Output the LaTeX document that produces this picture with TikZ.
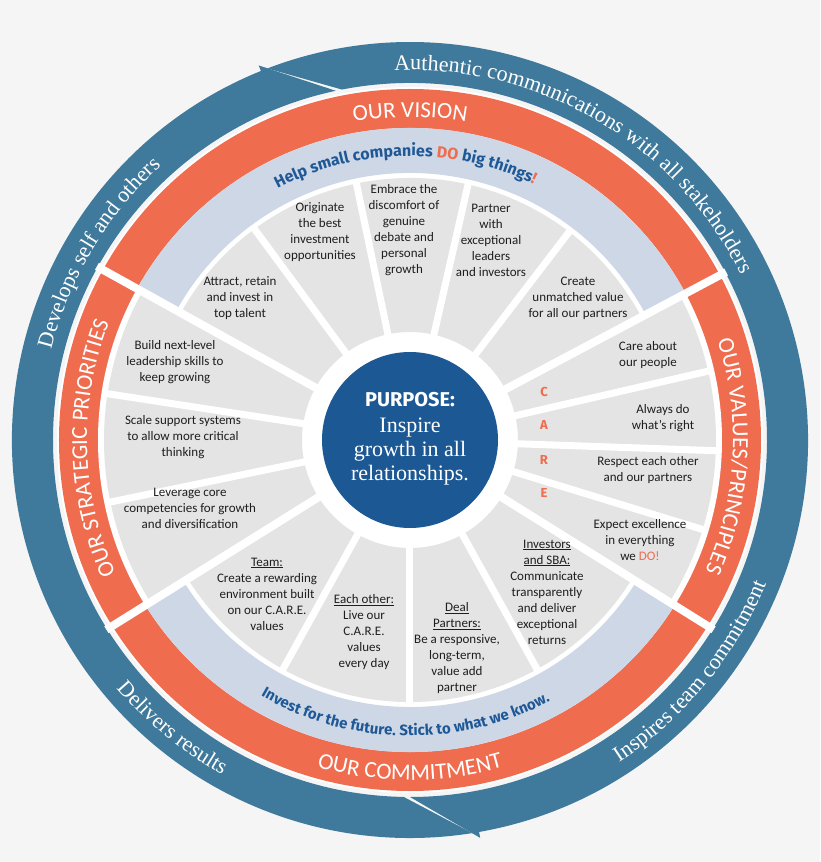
\documentclass[tikz,border=0pt]{standalone}
\usepackage{fontspec}
\setmainfont{Liberation Serif}
\newfontfamily\segfont{Carlito}
\newfontfamily\headfont{Fira Sans}
\usetikzlibrary{decorations.text}

\definecolor{bgcol}{RGB}{245,245,245}
\definecolor{ringblue}{RGB}{63,122,156}
\definecolor{ringorange}{RGB}{239,108,79}
\definecolor{lavender}{RGB}{205,215,230}
\definecolor{seggray}{RGB}{228,228,228}
\definecolor{purposeblue}{RGB}{28,88,148}
\definecolor{slogan}{RGB}{30,88,150}
\definecolor{segink}{RGB}{30,30,30}

\tikzset{
  seg text/.style={font=\segfont\fontsize{13}{16}\selectfont, text=segink, align=center, inner sep=0pt},
  care letter/.style={font=\headfont\bfseries\fontsize{13}{16}\selectfont, text=ringorange, inner sep=0pt},
  divider/.style={draw=white, line width=7pt},
  gap/.style={draw=white, line width=8pt},
}

\begin{document}
\begin{tikzpicture}[x=1pt,y=1pt]
\useasboundingbox (-410,-422) rectangle (410,440);
\fill[bgcol] (-410,-422) rectangle (410,440);

%Shape: blue arrows
\fill[ringblue] (269:357) arc[start angle=269,end angle=102,radius=357] -- (112:404) -- (112:398) arc[start angle=112,end angle=279,radius=398] -- cycle;
\fill[ringblue] (101:357) arc[start angle=101,end angle=-90,radius=357] -- (-80:404) -- (-80:398) arc[start angle=-80,end angle=111,radius=398] -- cycle;

%Shape: inner disc
\fill[white] (0,0) circle[radius=353];

%Shape: orange ring and lavender bands
\fill[ringorange] (0,0) circle[radius=351];
\fill[white] (0,0) circle[radius=312];
\foreach \a/\b in {28/151,212/328}
  \fill[lavender] (\a:267) arc[start angle=\a,end angle=\b,radius=267] -- (\b:312) arc[start angle=\b,end angle=\a,radius=312] -- cycle;

%Shape: gray segments
\foreach \a/\b/\r in {28/151/262,212/328/262,151/212/306,-32/28/306}
  \fill[seggray] (\a:108) arc[start angle=\a,end angle=\b,radius=108] -- (\b:\r) arc[start angle=\b,end angle=\a,radius=\r] -- cycle;

%Straight Lines: dividers
\foreach \a in {126.4,101.8,77.2,52.6,241,270,299}
  \draw[divider] (\a:100) -- (\a:264);
\foreach \a in {13,-2,-17,171.3,191.7}
  \draw[divider] (\a:100) -- (\a:310);
\foreach \a in {28,151,212,-32}
  \draw[gap] (\a:100) -- (\a:358);

%Shape: purpose circle
\node[circle, fill=purposeblue, minimum size=176pt, inner sep=0pt] (purpose) at (0,0) {};
\node[font=\headfont\bfseries\fontsize{20}{22}\selectfont, text=white] (purposehead) at (0,40) {PURPOSE:};
\node[font=\fontsize{22}{24}\selectfont, text=white, align=center] (purposetext) at (0,-12) {Inspire\\growth in all\\relationships.};

%Curve Lines: ring texts
\path[decorate, decoration={text along path, text align=center,
  text={|\fontsize{22}{22}\selectfont\color{white}|Authentic communications with all stakeholders}}]
  (95:370) arc[start angle=95,end angle=24,radius=370];
\path[decorate, decoration={text along path, text align=center,
  text={|\fontsize{22}{22}\selectfont\color{white}|Develops self and others}}]
  (168:370) arc[start angle=168,end angle=130,radius=370];
\path[decorate, decoration={text along path, text align=center,
  text={|\fontsize{22}{22}\selectfont\color{white}|Delivers results}}]
  (218:384) arc[start angle=218,end angle=243,radius=384];
\path[decorate, decoration={text along path, text align=center,
  text={|\fontsize{22}{22}\selectfont\color{white}|Inspires team commitment}}]
  (301:384) arc[start angle=301,end angle=340,radius=384];

\path[decorate, decoration={text along path, text align=center,
  text={|\segfont\fontsize{23}{23}\selectfont\color{white}|OUR VISION}}]
  (110:323) arc[start angle=110,end angle=70,radius=323];
\path[decorate, decoration={text along path, text align=center,
  text={|\segfont\fontsize{23}{23}\selectfont\color{white}|OUR VALUES/PRINCIPLES}}]
  (24:323) arc[start angle=24,end angle=-30,radius=323];
\path[decorate, decoration={text along path, text align=center,
  text={|\segfont\fontsize{23}{23}\selectfont\color{white}|OUR STRATEGIC PRIORITIES}}]
  (208:323) arc[start angle=208,end angle=155,radius=323];
\path[decorate, decoration={text along path, text align=center,
  text={|\segfont\fontsize{23}{23}\selectfont\color{white}|OUR COMMITMENT}}]
  (250:340) arc[start angle=250,end angle=290,radius=340];

\path[decorate, decoration={text along path, text align=center,
  text={|\headfont\bfseries\fontsize{16}{16}\selectfont\color{slogan}|Help small companies |\headfont\bfseries\fontsize{16}{16}\selectfont\color{ringorange}|DO|\headfont\bfseries\fontsize{16}{16}\selectfont\color{slogan}| big things|\headfont\bfseries\fontsize{16}{16}\selectfont\color{ringorange}|!}}]
  (124:284) arc[start angle=124,end angle=58,radius=284];
\path[decorate, decoration={text along path, text align=center,
  text={|\headfont\bfseries\fontsize{15}{15}\selectfont\color{slogan}|Invest for the future. Stick to what we know.}}]
  (230:296) arc[start angle=230,end angle=308,radius=296];

% Text Node: vision segments
\node[seg text] (attract) at (-170,142) {Attract, retain\\and invest in\\top talent};
\node[seg text] (originate) at (-90,208) {Originate\\the best\\investment\\opportunities};
\node[seg text] (embrace) at (-6,210) {Embrace the\\discomfort of\\genuine\\debate and\\personal\\growth};
\node[seg text] (partner) at (81,200) {Partner\\with\\exceptional\\leaders\\and investors};
\node[seg text] (create) at (168,142) {Create\\unmatched value\\for all our partners};

% Text Node: values segments
\node[seg text] (care) at (238,85) {Care about\\our people};
\node[seg text] (always) at (253,22) {Always do\\what’s right};
\node[seg text] (respect) at (238,-30) {Respect each other\\and our partners};
\node[seg text] (expect) at (230,-100) {Expect excellence\\in everything\\we \textcolor{ringorange}{DO!}};
\node[care letter] (letterc) at (134,48) {C};
\node[care letter] (lettera) at (134,15) {A};
\node[care letter] (letterr) at (134,-20) {R};
\node[care letter] (lettere) at (134,-53) {E};

% Text Node: commitment segments
\node[seg text] (investors) at (137,-152) {\underline{Investors}\\\underline{and SBA:}\\Communicate\\transparently\\and deliver\\exceptional\\returns};
\node[seg text] (deal) at (47,-208) {\underline{Deal}\\\underline{Partners:}\\Be a responsive,\\long-term,\\value add\\partner};
\node[seg text] (eachother) at (-46,-192) {\underline{Each other:}\\Live our\\C.A.R.E.\\values\\every day};
\node[seg text] (team) at (-143,-154) {\underline{Team:}\\Create a rewarding\\environment built\\on our C.A.R.E.\\values};

% Text Node: priorities segments
\node[seg text] (build) at (-235,78) {Build next-level\\leadership skills to\\keep growing};
\node[seg text] (scale) at (-227,3) {Scale support systems\\to allow more critical\\thinking};
\node[seg text] (leverage) at (-220,-68) {Leverage core\\competencies for growth\\and diversification};

\end{tikzpicture}
\end{document}
